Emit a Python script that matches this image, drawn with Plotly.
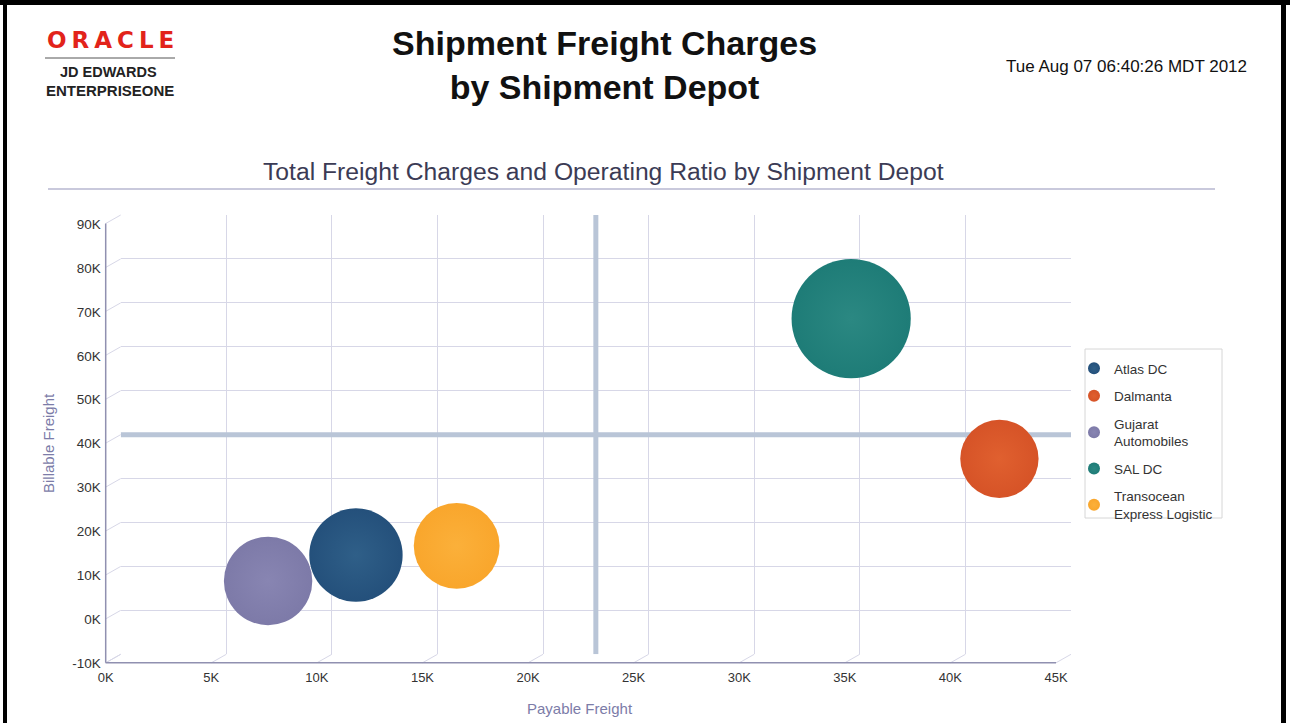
import plotly.graph_objects as go

# ---------------- data ----------------
depots = ["Atlas DC", "Dalmanta", "Gujarat<br>Automobiles", "SAL DC", "Transocean<br>Express Logistic"]
payable_freight = [11140, 41610, 6980, 34590, 15910]
billable_freight = [12600, 34500, 6700, 66400, 14700]
operating_ratio = [87.2, 61.3, 78.2, 142.1, 73.6]
ref_payable = 22500
ref_billable = 40000

x_tick_vals = [0, 5000, 10000, 15000, 20000, 25000, 30000, 35000, 40000, 45000]
x_tick_labels = ["0K", "5K", "10K", "15K", "20K", "25K", "30K", "35K", "40K", "45K"]
y_tick_vals = [-10000, 0, 10000, 20000, 30000, 40000, 50000, 60000, 70000, 80000, 90000]
y_tick_labels = ["-10K", "0K", "10K", "20K", "30K", "40K", "50K", "60K", "70K", "80K", "90K"]

# ---------------- styles ----------------
colors = ["#24507B", "#D65327", "#7D7AA8", "#1E7C77", "#F9A62C"]
centers = ["#2F5F88", "#E0602F", "#8885B2", "#2B8882", "#FBB03A"]

W, H = 1290, 723
BX0, BX1, BY0, BY1 = 120.7, 1071.0, 215.0, 654.3   # back face (plot area) in px
DX, DY = -15.0, 8.5                                  # 3D front offset
X_RANGE = [x_tick_vals[0], x_tick_vals[-1]]
Y_RANGE = [y_tick_vals[0], y_tick_vals[-1]]
GRID = "#D7D7E7"
FRONT = "#9090B0"
REF = "#B9C5D7"
FONT = "Liberation Sans, Arial, sans-serif"


def px_x(v):
    return BX0 + (v - X_RANGE[0]) / (X_RANGE[1] - X_RANGE[0]) * (BX1 - BX0)


def px_y(v):
    return BY1 - (v - Y_RANGE[0]) / (Y_RANGE[1] - Y_RANGE[0]) * (BY1 - BY0)


def pline(x0, y0, x1, y1, color, width):
    return dict(type="line", xref="paper", yref="paper",
                x0=x0 / W, y0=1 - y0 / H, x1=x1 / W, y1=1 - y1 / H,
                line=dict(color=color, width=width), layer="above")


def prect(x0, y0, x1, y1, fill, line_color=None, layer="above"):
    return dict(type="rect", xref="paper", yref="paper",
                x0=x0 / W, y0=1 - y1 / H, x1=x1 / W, y1=1 - y0 / H,
                fillcolor=fill, line=dict(width=1 if line_color else 0, color=line_color or fill),
                layer=layer)


fig = go.Figure()
# reference lines (average markers)
fig.add_trace(go.Scatter(x=[ref_payable, ref_payable], y=Y_RANGE, mode="lines",
                         line=dict(color=REF, width=5), showlegend=False, hoverinfo="skip"))
fig.add_trace(go.Scatter(x=X_RANGE, y=[ref_billable, ref_billable], mode="lines",
                         line=dict(color=REF, width=5), showlegend=False, hoverinfo="skip"))

for i, name in enumerate(depots):
    fig.add_trace(go.Scatter(
        x=[payable_freight[i]], y=[billable_freight[i]], mode="markers", name=name,
        legendgroup=str(i),
        marker=dict(size=[operating_ratio[i]], sizemode="area", sizeref=0.02, opacity=1,
                    color=colors[i], line=dict(width=0),
                    gradient=dict(type="radial", color=centers[i])),
        cliponaxis=False,
    ))

shapes = []
# 3D wall / floor diagonals
for v in y_tick_vals:
    shapes.append(pline(BX0, px_y(v), BX0 + DX, px_y(v) + DY, GRID, 1))
for v in x_tick_vals:
    shapes.append(pline(px_x(v), BY1, px_x(v) + DX, BY1 + DY, GRID, 1))
# front axis lines
shapes.append(pline(BX0 + DX, BY0 + DY, BX0 + DX, BY1 + DY, FRONT, 1.5))
shapes.append(pline(BX0 + DX, BY1 + DY, BX1 + DX, BY1 + DY, FRONT, 1.5))
# subtitle rule
shapes.append(pline(48, 189, 1215, 189, "#C9C9DC", 2))
# logo rule
shapes.append(pline(45, 58, 175, 58, "#555555", 1))
# legend box
shapes.append(prect(1085, 349, 1222, 518, "rgba(0,0,0,0)", "#D6D6D6", layer="below"))
# page border
shapes.append(prect(0, 0, W, 5, "black"))
shapes.append(prect(3, 0, 7, H, "black"))
shapes.append(prect(1281, 0, 1286, H, "black"))

annotations = [
    dict(text="<b>Shipment Freight Charges<br>by Shipment Depot</b>", x=604 / W, y=1 - 65 / H,
         xanchor="center", yanchor="middle", font=dict(size=34, color="#111111", family=FONT)),
    dict(text="Tue Aug 07 06:40:26 MDT 2012", x=1249 / W, y=1 - 66 / H, xanchor="right", yanchor="middle",
         font=dict(size=17, color="#111111", family=FONT)),
    dict(text='<span style="letter-spacing:5px">ORACLE</span>', x=113 / W, y=1 - 40 / H, xanchor="center",
         yanchor="middle", font=dict(size=23, color="#E2231A", family="DejaVu Sans, sans-serif", weight="bold")),
    dict(text="<b>JD EDWARDS</b>", x=108 / W, y=1 - 72 / H, xanchor="center", yanchor="middle",
         font=dict(size=14.5, color="#222222", family=FONT)),
    dict(text="<b>ENTERPRISEONE</b>", x=110 / W, y=1 - 90 / H, xanchor="center", yanchor="middle",
         font=dict(size=15, color="#222222", family=FONT)),
    dict(text="Total Freight Charges and Operating Ratio by Shipment Depot", x=603 / W, y=1 - 171 / H,
         xanchor="center", yanchor="middle", font=dict(size=24.7, color="#3B3B55", family=FONT)),
    dict(text="Billable Freight", x=48 / W, y=1 - 443 / H, xanchor="center", yanchor="middle", textangle=-90,
         font=dict(size=15, color="#7C7CA8", family=FONT)),
    dict(text="Payable Freight", x=580 / W, y=1 - 708 / H, xanchor="center", yanchor="middle",
         font=dict(size=15, color="#7C7CA8", family=FONT)),
]
for a in annotations:
    a.update(xref="paper", yref="paper", showarrow=False)

fig.update_layout(
    width=W, height=H, margin=dict(l=0, r=0, t=0, b=0),
    paper_bgcolor="white", plot_bgcolor="white",
    font=dict(family=FONT, color="#333333"),
    showlegend=True,
    legend=dict(x=1074 / W, y=1 - 353 / H, xanchor="left", yanchor="top",
                bgcolor="rgba(0,0,0,0)", borderwidth=0,
                font=dict(size=13.5, color="#333333", family=FONT),
                itemsizing="constant", tracegroupgap=7, itemwidth=30),
    xaxis=dict(domain=[BX0 / W, BX1 / W], range=X_RANGE, tickvals=x_tick_vals, ticktext=x_tick_labels,
               showgrid=True, gridcolor=GRID, gridwidth=1, zeroline=False, showline=False, ticks="",
               tickfont=dict(size=13, color="#333333"), ticklabelshift=-15, ticklabelstandoff=14,
               automargin=False, fixedrange=True),
    yaxis=dict(domain=[1 - BY1 / H, 1 - BY0 / H], range=Y_RANGE, tickvals=y_tick_vals, ticktext=y_tick_labels,
               showgrid=True, gridcolor=GRID, gridwidth=1, zeroline=False, showline=False, ticks="",
               tickfont=dict(size=13.5, color="#333333"), ticklabelshift=9, ticklabelstandoff=19,
               automargin=False, fixedrange=True),
    shapes=shapes, annotations=annotations,
)

fig.write_html("out.html", config={"displayModeBar": False},
               post_script="document.body.style.margin='0px';")
